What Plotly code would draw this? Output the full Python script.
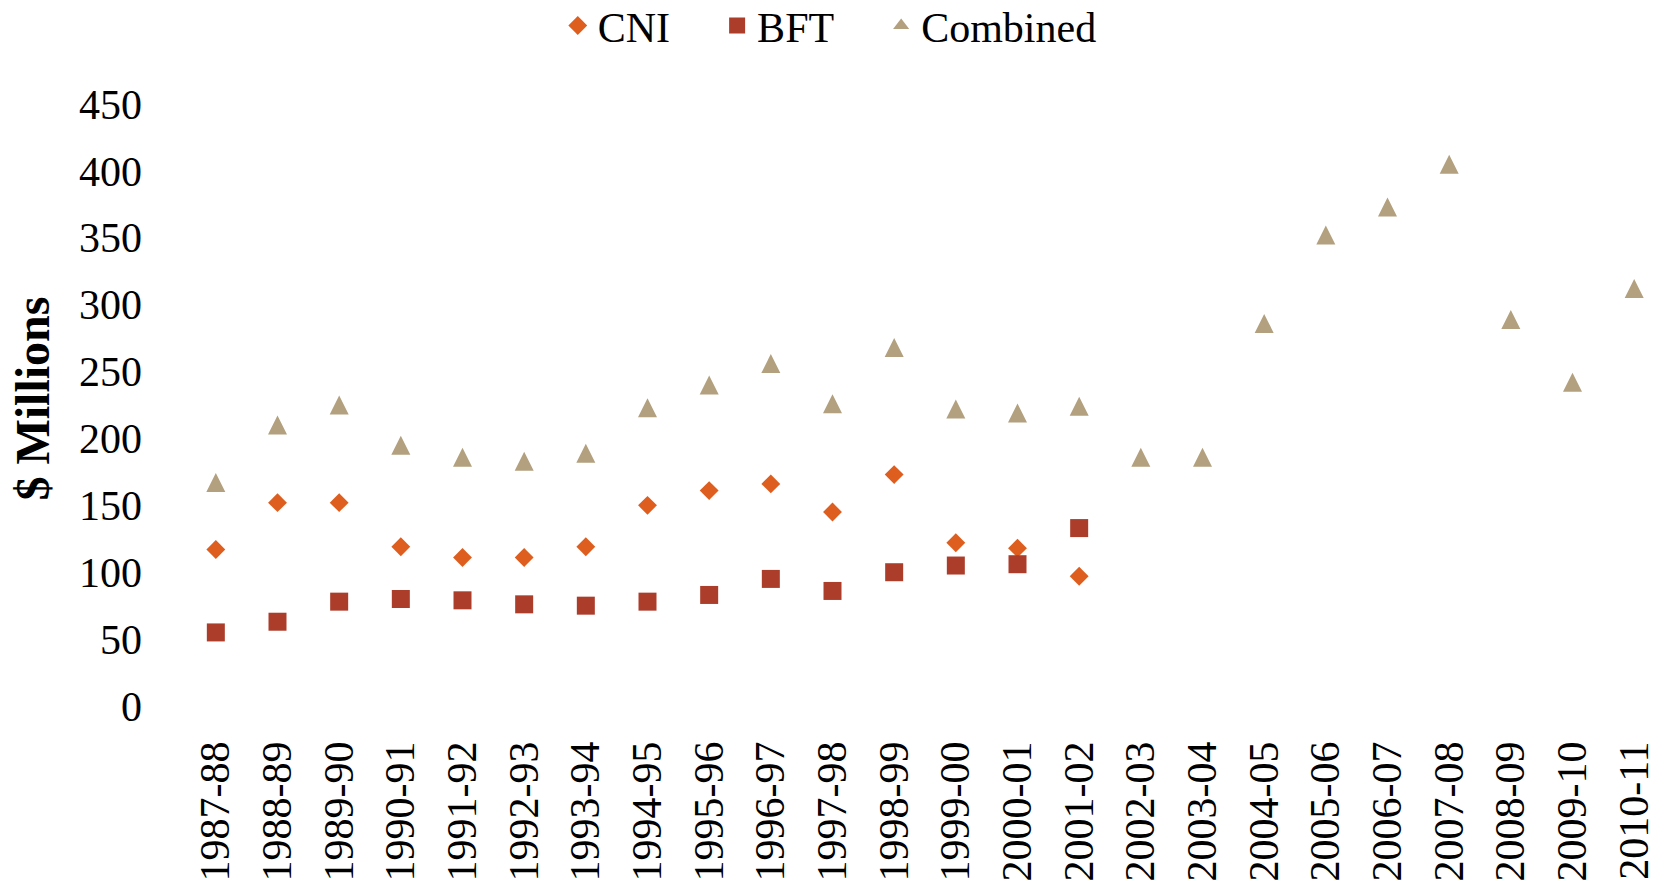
import plotly.graph_objects as go

# Fiscal years on the category axis
years = ["1987-88", "1988-89", "1989-90", "1990-91", "1991-92", "1992-93",
         "1993-94", "1994-95", "1995-96", "1996-97", "1997-98", "1998-99",
         "1999-00", "2000-01", "2001-02", "2002-03", "2003-04", "2004-05",
         "2005-06", "2006-07", "2007-08", "2008-09", "2009-10", "2010-11"]

# $ millions per year (CNI and BFT reported separately until 2001-02)
cni = [117, 152, 152, 119, 111, 111, 119, 150, 161, 166, 145, 173,
       122, 118, 97]
bft = [55, 63, 78, 80, 79, 76, 75, 78, 83, 95, 86, 100,
       105, 106, 133]
combined = [167, 210, 225, 195, 186, 183, 189, 223, 240, 256, 226, 268,
            222, 219, 224, 186, 186, 286, 352, 373, 405, 289, 242, 312]

y_ticks = list(range(0, 451, 50))

FONT = "Liberation Serif"
C_CNI = "#DD5E1E"
C_BFT = "#AC3D2B"
C_COMB = "#B2A07E"
PAD = "\u00a0" * 4  # extra room after each legend label

fig = go.Figure()
fig.add_trace(go.Scatter(
    x=years[:len(cni)], y=cni, name="CNI" + PAD, mode="markers",
    marker=dict(symbol="diamond", size=14.5, color=C_CNI, line=dict(width=0)),
))
fig.add_trace(go.Scatter(
    x=years[:len(bft)], y=bft, name="BFT" + PAD, mode="markers",
    marker=dict(symbol="square", size=18, color=C_BFT, line=dict(width=0)),
))
# upward triangle as tall as it is wide, centred on the point
fig.add_trace(go.Scatter(
    x=years, y=combined, name="Combined", mode="markers", showlegend=False,
    legendgroup="comb",
    marker=dict(symbol="arrow-down", angle=180, standoff=9.5, size=19,
                color=C_COMB, line=dict(width=0)),
))
# legend entry for the combined series
fig.add_trace(go.Scatter(
    x=[None], y=[None], name="Combined", mode="markers", legendgroup="comb",
    marker=dict(symbol="triangle-up", size=14, color=C_COMB, line=dict(width=0)),
))

# vertical axis caption
fig.add_annotation(
    text="<b>$ Millions</b>", textangle=-90, showarrow=False,
    xref="paper", yref="paper", x=-0.103, y=0.51,
    xanchor="center", yanchor="middle",
    font=dict(family=FONT, size=48, color="black"),
)

fig.update_layout(
    width=1665, height=890,
    margin=dict(l=185, r=0, t=104, b=184, autoexpand=False),
    paper_bgcolor="white", plot_bgcolor="white",
    font=dict(family=FONT, size=42, color="black"),
    showlegend=True,
    legend=dict(
        orientation="h", xref="container", yref="paper",
        x=0.335, xanchor="left", y=1.13, yanchor="middle",
        font=dict(family=FONT, size=42, color="black"),
        itemsizing="trace", bgcolor="rgba(0,0,0,0)",
    ),
    xaxis=dict(
        type="category", categoryorder="array", categoryarray=years,
        range=[-0.5, len(years) - 0.5],
        tickangle=-90, ticks="", showgrid=False, showline=False,
        zeroline=False, ticklabelstandoff=26,
        tickfont=dict(family=FONT, size=42, color="black"),
    ),
    yaxis=dict(
        range=[0, 450], tickvals=y_ticks, ticks="", showgrid=False,
        showline=False, zeroline=False, ticklabelstandoff=42,
        tickfont=dict(family=FONT, size=42, color="black"),
    ),
)

fig.write_html("out.html")
